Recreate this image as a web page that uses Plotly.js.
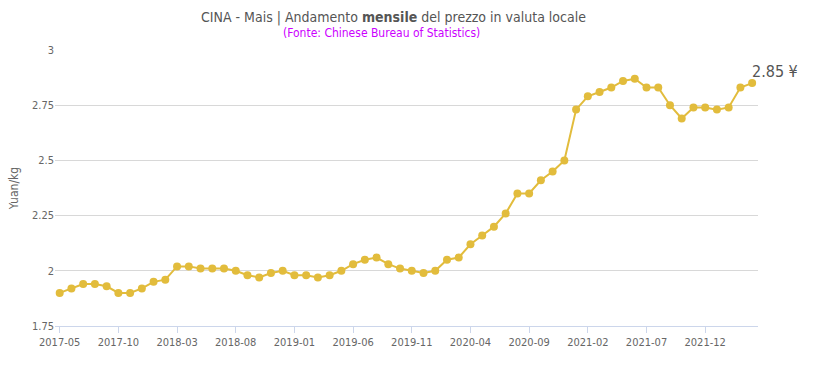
<!DOCTYPE html>
<html><head><meta charset="utf-8">
<script src="https://cdn.plot.ly/plotly-3.0.1.min.js"></script>
<style>html,body{margin:0;padding:0;background:#fff}#c{width:820px;height:365px}</style>
</head><body><div id="c"></div>
<script>
const months = ["2017-05","2017-06","2017-07","2017-08","2017-09","2017-10","2017-11","2017-12",
"2018-01","2018-02","2018-03","2018-04","2018-05","2018-06","2018-07","2018-08","2018-09","2018-10","2018-11","2018-12",
"2019-01","2019-02","2019-03","2019-04","2019-05","2019-06","2019-07","2019-08","2019-09","2019-10","2019-11","2019-12",
"2020-01","2020-02","2020-03","2020-04","2020-05","2020-06","2020-07","2020-08","2020-09","2020-10","2020-11","2020-12",
"2021-01","2021-02","2021-03","2021-04","2021-05","2021-06","2021-07","2021-08","2021-09","2021-10","2021-11","2021-12",
"2022-01","2022-02","2022-03","2022-04"];
const prices = [1.90,1.92,1.94,1.94,1.93,1.90,1.90,1.92,
1.95,1.96,2.02,2.02,2.01,2.01,2.01,2.00,1.98,1.97,1.99,2.00,
1.98,1.98,1.97,1.98,2.00,2.03,2.05,2.06,2.03,2.01,2.00,1.99,
2.00,2.05,2.06,2.12,2.16,2.20,2.26,2.35,2.35,2.41,2.45,2.50,
2.73,2.79,2.81,2.83,2.86,2.87,2.83,2.83,2.75,2.69,2.74,2.74,
2.73,2.74,2.83,2.85];
const xTicks = ["2017-05","2017-10","2018-03","2018-08","2019-01","2019-06","2019-11","2020-04","2020-09","2021-02","2021-07","2021-12"];
const yTicks = [1.75,2,2.25,2.5,2.75,3];
const lastLabel = "2.85 ¥";
const titleText = "CINA - Mais | Andamento <b>mensile</b> del prezzo in valuta locale";
const subtitleText = "(Fonte: Chinese Bureau of Statistics)";

const FONT = "'DejaVu Sans Condensed', 'Liberation Sans Narrow', Roboto, sans-serif";
const trace = {
  x: months, y: prices, type: 'scatter', mode: 'lines+markers',
  line: {color: '#e2bc3c', width: 2},
  marker: {color: '#e2bc3c', size: 8},
  hoverinfo: 'x+y'
};
const pw = 820 - 55 - 62, ph = 365 - 50 - 39;
const layout = {
  width: 820, height: 365,
  margin: {l: 55, r: 62, t: 50, b: 39},
  paper_bgcolor: '#fff', plot_bgcolor: '#fff',
  showlegend: false,
  font: {family: FONT, color: '#666', size: 11},
  xaxis: {
    type: 'category', range: [-0.4, 59.5],
    tickmode: 'array', tickvals: xTicks, ticktext: xTicks,
    showgrid: false, zeroline: false,
    showline: true, linecolor: '#ccd6eb', linewidth: 1,
    ticks: 'outside', ticklen: 6, tickcolor: '#ccd6eb',
    tickfont: {family: FONT, size: 11, color: '#666'}
  },
  yaxis: {
    range: [1.75, 3], tickmode: 'array', tickvals: yTicks,
    showgrid: true, gridcolor: '#d8d8d8', gridwidth: 1,
    zeroline: false, showline: false, ticks: '',
    tickfont: {family: FONT, size: 11, color: '#666'},
    title: {text: 'Yuan/kg', font: {family: FONT, size: 12, color: '#666'}, standoff: 10}
  },
  annotations: [{
    x: (393 - 55) / pw, y: (326 - 18) / ph, xref: 'paper', yref: 'paper',
    xanchor: 'center', yanchor: 'middle', text: titleText, showarrow: false,
    font: {family: FONT, size: 14, color: '#555'}
  }, {
    x: (381 - 55) / pw, y: (326 - 33) / ph, xref: 'paper', yref: 'paper',
    xanchor: 'center', yanchor: 'middle', text: subtitleText, showarrow: false,
    font: {family: FONT, size: 12, color: '#cc00ff'}
  }, {
    x: months[months.length-1], y: prices[prices.length-1],
    xref: 'x', yref: 'y', text: lastLabel, showarrow: false,
    xanchor: 'left', yanchor: 'bottom', xshift: -2, yshift: 0,
    font: {family: FONT, size: 16, color: '#555'}
  }]
};
Plotly.newPlot('c', [trace], layout, {displayModeBar: false, staticPlot: true});
</script></body></html>
